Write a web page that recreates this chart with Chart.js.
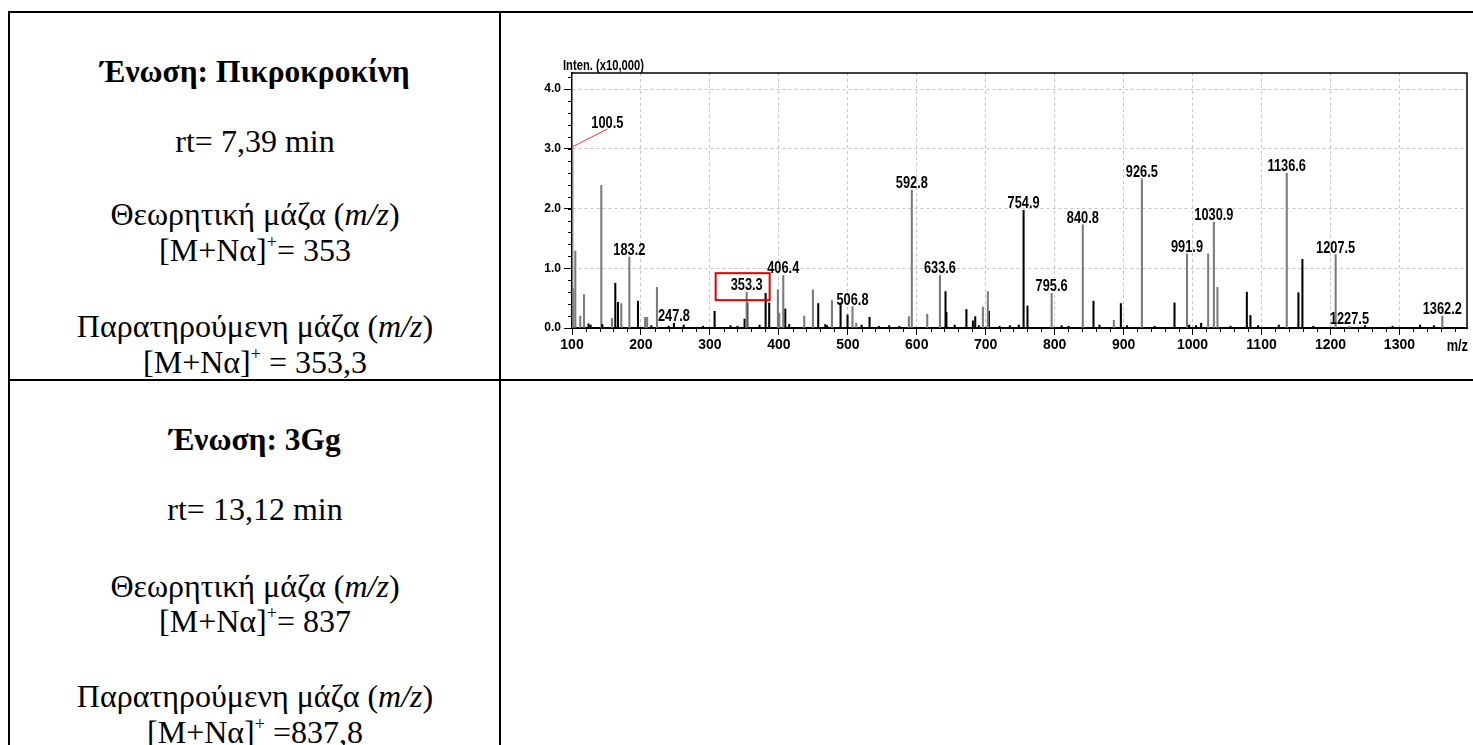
<!DOCTYPE html>
<html>
<head>
<meta charset="utf-8">
<script src="https://cdn.jsdelivr.net/npm/chart.js@4.4.0/dist/chart.umd.min.js"></script>
<style>
  body { margin:0; background:#fff; width:1473px; height:745px; overflow:hidden; position:relative; }
  #tbl { position:absolute; left:0; top:0; }
  #box { position:absolute; left:510px; top:40px; width:963px; height:318px; }
</style>
</head>
<body>
<svg id="tbl" width="1473" height="745" font-family="'Liberation Serif', 'Times New Roman', serif" fill="#000">
  <line x1="9" y1="12" x2="1473" y2="12" stroke="#000" stroke-width="2"/>
  <line x1="9" y1="380" x2="1473" y2="380" stroke="#000" stroke-width="2"/>
  <line x1="9" y1="11" x2="9" y2="745" stroke="#000" stroke-width="2"/>
  <line x1="500" y1="11" x2="500" y2="745" stroke="#000" stroke-width="2"/>

  <g text-anchor="middle" font-size="32">
    <text x="255" y="82" font-weight="bold" font-size="31.5">Ένωση: Πικροκροκίνη</text>
    <text x="255" y="152">rt= 7,39 min</text>
    <text x="255" y="225">Θεωρητική μάζα (<tspan font-style="italic">m/z</tspan>)</text>
    <text x="255" y="261">[M+Nα]<tspan dy="-13" font-size="18">+</tspan><tspan dy="13">= 353</tspan></text>
    <text x="255" y="337">Παρατηρούμενη μάζα (<tspan font-style="italic">m/z</tspan>)</text>
    <text x="255" y="373">[M+Nα]<tspan dy="-13" font-size="18">+</tspan><tspan dy="13"> = 353,3</tspan></text>

    <text x="255" y="450" font-weight="bold" font-size="31.5">Ένωση: 3Gg</text>
    <text x="255" y="520">rt= 13,12 min</text>
    <text x="255" y="597">Θεωρητική μάζα (<tspan font-style="italic">m/z</tspan>)</text>
    <text x="255" y="632">[M+Nα]<tspan dy="-13" font-size="18">+</tspan><tspan dy="13">= 837</tspan></text>
    <text x="255" y="707">Παρατηρούμενη μάζα (<tspan font-style="italic">m/z</tspan>)</text>
    <text x="255" y="743">[M+Nα]<tspan dy="-13" font-size="18">+</tspan><tspan dy="13"> =837,8</tspan></text>
  </g>
</svg>

<div id="box"><canvas id="ms"></canvas></div>

<script>
// grey peaks (m/z , intensity x10,000)
const greyMz  = [100.5, 101.5, 104.8, 112.0, 117.4, 142.5, 158.0, 171.5, 183.2, 206.0, 209.0, 223.2,
                 353.3, 398.6, 400.5, 406.4, 436.8, 449.4, 477.0, 506.8, 512.2, 588.6, 592.8, 615.2,
                 633.6, 695.9, 703.1, 795.6, 840.8, 885.8, 926.5, 991.9, 1022.6, 1030.9, 1036.1,
                 1136.6, 1207.5, 1227.5, 1362.2];
const greyInt = [3.03, 0.66, 1.29, 0.20, 0.56, 2.39, 0.16, 0.41, 1.19, 0.18, 0.18, 0.68,
                 0.60, 0.64, 0.25, 0.88, 0.20, 0.64, 0.46, 0.36, 0.08, 0.19, 2.31, 0.23,
                 0.88, 0.35, 0.61, 0.58, 1.73, 0.13, 2.50, 1.24, 1.24, 1.77, 0.68,
                 2.59, 1.23, 0.03, 0.20];
// black peaks
const blackMz  = [124.0, 162.8, 166.7, 195.7, 247.8, 306.8, 350.3, 354.3, 380.8, 386.0, 409.3, 457.1,
                  467.3, 489.5, 499.6, 531.5, 641.7, 643.0, 672.0, 681.4, 684.8, 704.6, 754.9, 760.6,
                  856.3, 896.0, 973.8, 1012.4, 1078.7, 1083.9, 1153.5, 1159.3];
const blackInt = [0.07, 0.75, 0.43, 0.45, 0.08, 0.28, 0.15, 0.42, 0.58, 0.42, 0.32, 0.41,
                  0.06, 0.42, 0.22, 0.18, 0.61, 0.26, 0.31, 0.12, 0.19, 0.28, 1.97, 0.37,
                  0.45, 0.41, 0.42, 0.08, 0.60, 0.21, 0.59, 1.15];
// baseline noise
const noiseMz  = [127, 144, 215, 240, 262, 290, 330, 340, 372, 415, 470, 520, 545, 560, 575, 655, 690,
                  720, 735, 748, 810, 820, 865, 905, 945, 995, 1005, 1055, 1095, 1125, 1175, 1250,
                  1290, 1330, 1350];
const noiseInt = [0.05, 0.06, 0.04, 0.03, 0.05, 0.03, 0.04, 0.03, 0.05, 0.06, 0.04, 0.05, 0.03, 0.04,
                  0.03, 0.05, 0.04, 0.03, 0.04, 0.05, 0.04, 0.03, 0.05, 0.04, 0.03, 0.05, 0.04,
                  0.03, 0.04, 0.05, 0.03, 0.04, 0.03, 0.05, 0.04];

const labelMz = [100.5, 183.2, 247.8, 353.3, 406.4, 506.8, 592.8, 633.6, 754.9, 795.6, 840.8,
                 926.5, 991.9, 1030.9, 1136.6, 1207.5, 1227.5, 1362.2];
const xTicks = [100, 200, 300, 400, 500, 600, 700, 800, 900, 1000, 1100, 1200, 1300];
const yTicks = [0, 1, 2, 3, 4];

const SANS = '"Liberation Sans", Arial, sans-serif';

function pts(mz, it){ return mz.map((m,i)=>({x:m, y:it[i]})); }

function heightOf(m){
  let i = greyMz.indexOf(m);
  if(i>=0) return greyInt[i];
  i = blackMz.indexOf(m);
  return i>=0 ? blackInt[i] : 0;
}

// squeezed bold text, the original uses a narrow font
function narrowText(ctx, txt, x, y, size, align){
  ctx.save();
  ctx.translate(x, y);
  ctx.scale(0.8, 1);
  ctx.font = 'bold ' + size + 'px ' + SANS;
  ctx.textAlign = align || 'center';
  ctx.textBaseline = 'alphabetic';
  ctx.fillText(txt, 0, 0);
  ctx.restore();
}

const extras = {
  id:'extras',
  afterDraw(chart){
    const ctx = chart.ctx, a = chart.chartArea;
    const xs = chart.scales.x, ys = chart.scales.y;
    ctx.save();
    // frame top/right
    ctx.strokeStyle = '#000'; ctx.lineWidth = 1.5;
    ctx.beginPath();
    ctx.moveTo(a.left, a.top); ctx.lineTo(a.right, a.top); ctx.lineTo(a.right, a.bottom);
    ctx.stroke();
    // minor ticks
    ctx.lineWidth = 1;
    ctx.beginPath();
    for(let v=0.2; v<4.3; v+=0.2){
      const y = Math.round(ys.getPixelForValue(v))+0.5;
      ctx.moveTo(a.left-4, y); ctx.lineTo(a.left, y);
    }
    for(let v=120; v<1400; v+=20){
      if(v%100===0) continue;
      const x = Math.round(xs.getPixelForValue(v))+0.5;
      ctx.moveTo(x, a.bottom); ctx.lineTo(x, a.bottom+4);
    }
    ctx.stroke();

    // peak labels
    ctx.fillStyle = '#000';
    labelMz.forEach(m=>{
      const txt = m.toFixed(1);
      const x = xs.getPixelForValue(m), y = ys.getPixelForValue(heightOf(m));
      if(m===100.5){
        ctx.strokeStyle = '#ff3030'; ctx.lineWidth = 1;
        ctx.beginPath(); ctx.moveTo(a.left, y); ctx.lineTo(x+35, y-18); ctx.stroke();
        narrowText(ctx, txt, x+35, y-19, 16);
        return;
      }
      narrowText(ctx, txt, x, y-2, 16);
      if(m===353.3){
        ctx.strokeStyle = '#e00000'; ctx.lineWidth = 2;
        ctx.strokeRect(x-31, y-19, 54, 27);
      }
    });

    // axis title and m/z
    narrowText(ctx, 'Inten. (x10,000)', a.left-9, a.top-3, 14, 'left');
    narrowText(ctx, 'm/z', a.right+1, a.bottom+23, 16, 'right');
    ctx.restore();
  }
};

const barBase = { barThickness:1.4, grouped:false, borderWidth:0 };

new Chart(document.getElementById('ms'), {
  type:'bar',
  data:{
    datasets:[
      Object.assign({ label:'noise', data:pts(noiseMz, noiseInt), backgroundColor:'#000' }, barBase),
      Object.assign({ label:'grey', data:pts(greyMz, greyInt), backgroundColor:'#7a7a7a' }, barBase),
      Object.assign({ label:'black', data:pts(blackMz, blackInt), backgroundColor:'#000' }, barBase)
    ]
  },
  options:{
    responsive:true,
    maintainAspectRatio:false,
    animation:false,
    layout:{ padding:{ top:33, right:6, left:0, bottom:0 } },
    plugins:{ legend:{display:false}, tooltip:{enabled:false} },
    scales:{
      x:{
        type:'linear', min:100, max:1398, offset:false,
        afterBuildTicks: s => { s.ticks = xTicks.map(v=>({value:v})); },
        afterFit: s => { s.height = 30; },
        grid:{
          color: c => (c.tick && c.tick.value===100) ? 'rgba(0,0,0,0)' : '#c4c4c4',
          lineWidth:1, tickLength:7, tickColor:'#000', offset:false
        },
        border:{ color:'#000', width:2, dash:[3,3] },
        ticks:{ autoSkip:false, maxRotation:0, padding:2, color:'#000',
                callback: v => String(v),
                font:{ family:SANS, size:14, weight:'bold' } }
      },
      y:{
        min:0, max:4.27,
        afterBuildTicks: s => { s.ticks = yTicks.map(v=>({value:v})); },
        afterFit: s => { s.width = 62; },
        grid:{
          color: c => (c.tick && c.tick.value===0) ? 'rgba(0,0,0,0)' : '#c4c4c4',
          lineWidth:1, tickLength:8, tickColor:'#000'
        },
        border:{ color:'#000', width:1.5, dash:[3,3] },
        ticks:{ padding:3, color:'#000', callback: v => Number(v).toFixed(1),
                font:{ family:SANS, size:12, weight:'bold' } }
      }
    }
  },
  plugins:[extras]
});
</script>
</body>
</html>
